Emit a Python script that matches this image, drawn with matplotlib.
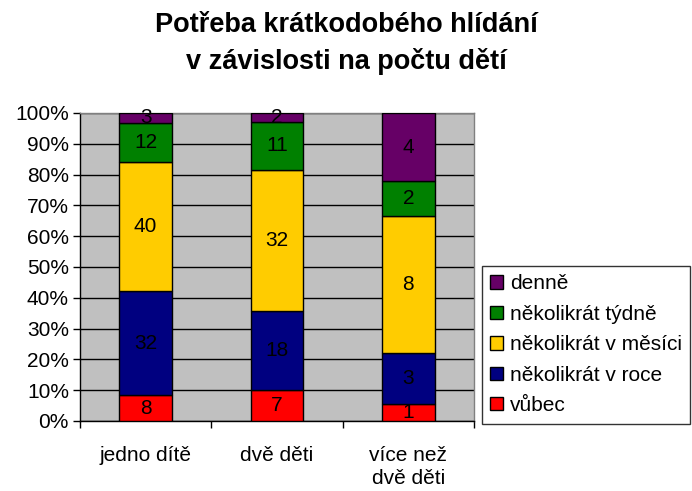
import matplotlib
matplotlib.use("Agg")
import matplotlib.pyplot as plt
import numpy as np
from matplotlib.ticker import PercentFormatter, FixedLocator

plt.rcParams['font.family'] = ['Liberation Sans', 'DejaVu Sans']

categories = ["jedno dítě", "dvě děti", "více než\ndvě děti"]
series_names = ["vůbec", "několikrát v roce", "několikrát v měsíci", "několikrát týdně", "denně"]
vubec = [8, 7, 1]
v_roce = [32, 18, 3]
v_mesici = [40, 32, 8]
tydne = [12, 11, 2]
denne = [3, 2, 4]
colors = ["#FF0000", "#000080", "#FFCC00", "#008000", "#660066"]
title = "Potřeba krátkodobého hlídání\nv závislosti na počtu dětí"

data = np.array([vubec, v_roce, v_mesici, tydne, denne], dtype=float)
totals = data.sum(axis=0)
pct = data / totals * 100

fig = plt.figure(figsize=(6.92, 4.91), dpi=100)
ax = fig.add_axes([0.1156, 0.1426, 0.5694, 0.6273])
ax.set_facecolor("#C0C0C0")

x = np.arange(len(categories))
bottom = np.zeros(len(categories))
handles = []
for i, name in enumerate(series_names):
    b = ax.bar(x, pct[i], 0.4, bottom=bottom, color=colors[i], edgecolor="black",
               linewidth=1.0, label=name, zorder=3)
    handles.append(b)
    for j in range(len(categories)):
        ax.text(x[j], bottom[j] + pct[i][j] / 2, f"{int(data[i][j])}", ha="center",
                va="center", fontsize=15, color="black", zorder=4)
    bottom += pct[i]

ax.set_xlim(-0.5, len(categories) - 0.5)
ax.set_ylim(0, 100)
ax.yaxis.set_major_locator(FixedLocator(np.arange(0, 101, 10)))
ax.yaxis.set_major_formatter(PercentFormatter(decimals=0))
ax.grid(axis="y", color="black", linewidth=1.0, zorder=1)
ax.set_axisbelow(True)
ax.set_xticks(x)
ax.set_xticklabels(categories, fontsize=15, linespacing=1.3)
ax.tick_params(axis="x", length=0, pad=18)
ax.set_xticks(np.arange(-0.5, len(categories)), minor=True)
ax.tick_params(axis="x", which="minor", length=5, width=1, direction="out")
ax.tick_params(axis="y", labelsize=15, length=5, width=1, direction="out", pad=3)
for s in ["top", "right"]:
    ax.spines[s].set_color("#808080")
    ax.spines[s].set_linewidth(1.0)
for s in ["left", "bottom"]:
    ax.spines[s].set_color("black")
    ax.spines[s].set_linewidth(1.0)

fig.suptitle(title, fontsize=19.5, fontweight="bold", x=0.50, y=0.975, linespacing=1.45)

leg = fig.legend(handles[::-1], series_names[::-1], loc="upper left",
                 bbox_to_anchor=(0.6965, 0.4582), frameon=True, fontsize=15,
                 handlelength=0.6, handleheight=0.6, handletextpad=0.35,
                 labelspacing=0.55, borderpad=0.4, borderaxespad=0, fancybox=False)
leg.get_frame().set_edgecolor("black")
leg.get_frame().set_linewidth(1.0)

fig.savefig("out.png", dpi=100)
